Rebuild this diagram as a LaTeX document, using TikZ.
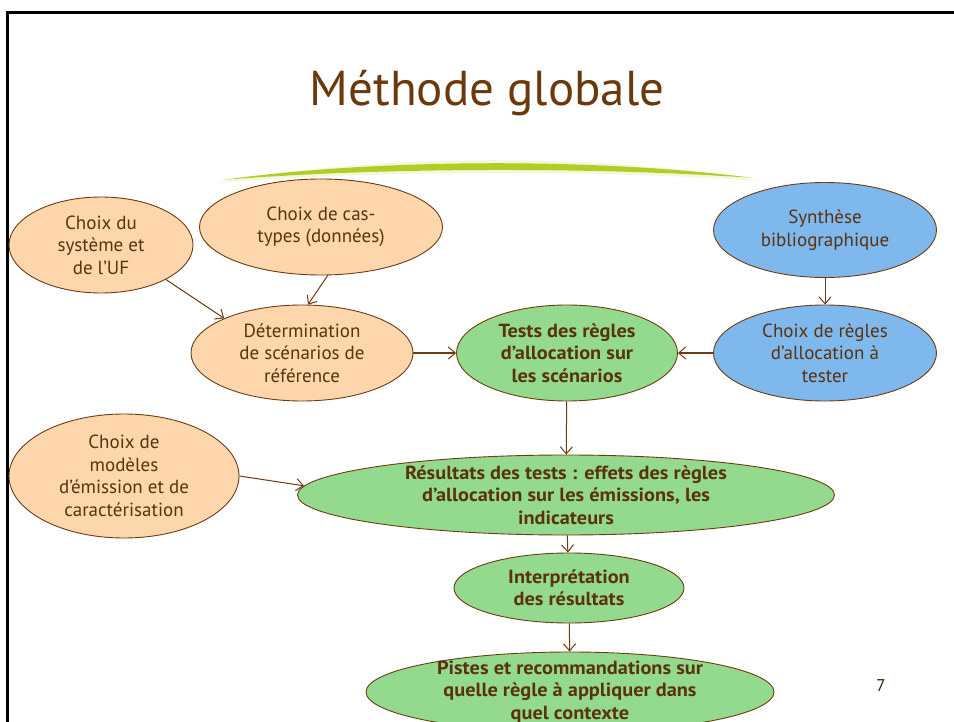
\documentclass[tikz,border=0pt]{standalone}
\usepackage{fontspec}
\setmainfont{PT Sans}
\newfontfamily\widefam[FakeStretch=1.07]{PT Sans}
\usetikzlibrary{shapes.geometric,arrows.meta}
\definecolor{peach}{RGB}{253,214,171}
\definecolor{leaf}{RGB}{147,218,143}
\definecolor{sky}{RGB}{126,184,236}
\definecolor{edge}{RGB}{110,60,20}
\definecolor{ink}{RGB}{90,50,16}
\definecolor{titlec}{RGB}{106,58,12}
\definecolor{swoosh}{RGB}{176,206,36}
\tikzset{
  ell/.style={ellipse, draw=edge, line width=0.9pt, inner sep=0pt},
  txt/.style={align=center, text=ink, font=\fontsize{19}{22.5}\selectfont, inner sep=0pt},
  btxt/.style={txt, font=\fontsize{19}{22.5}\selectfont\widefam\bfseries},
  arr/.style={draw=edge, line width=1pt, -{Straight Barb[length=7pt,width=12pt]}}
}
\begin{document}
\begin{tikzpicture}[x=1pt,y=-1pt]
\useasboundingbox (0,0) rectangle (954,722);
\fill[white] (0,0) rectangle (954,722);
% frame
\draw[black, line width=2.6pt] (7.5,730) -- (7.5,12.5) -- (960,12.5);
% title
\node[text=titlec, font=\fontsize{49}{55}\selectfont, inner sep=0pt] (title) at (487,93) {Méthode globale};
% swoosh
\fill[swoosh, opacity=0.15] (214,183) .. controls (380,153) and (600,153) .. (762,181) .. controls (600,170) and (380,170) .. (214,183) -- cycle;
\fill[swoosh] (222,180) .. controls (380,158) and (600,158) .. (754,178) .. controls (600,167) and (380,167) .. (222,180) -- cycle;
% ellipses
\node[ell, fill=peach, minimum width=184pt, minimum height=96pt] (sys) at (101,245) {};
\node[txt] at (sys) {Choix du\\système et\\de l’UF};
\node[ell, fill=peach, minimum width=243pt, minimum height=96pt] (cas) at (321,227) {};
\node[txt] at (cas) {Choix de cas-\\types (données)};
\node[ell, fill=peach, minimum width=222pt, minimum height=96pt] (det) at (302,353) {};
\node[txt] at (det) {Détermination\\de scénarios de\\référence};
\node[ell, fill=leaf, minimum width=221pt, minimum height=96pt] (tests) at (567,353) {};
\node[btxt] at (tests) {Tests des règles\\d’allocation sur\\les scénarios};
\node[ell, fill=sky, minimum width=223pt, minimum height=95pt] (synth) at (825,230) {};
\node[txt] at (synth) {Synthèse\\bibliographique};
\node[ell, fill=sky, minimum width=223pt, minimum height=96pt] (regles) at (825,353) {};
\node[txt] at (regles) {Choix de règles\\d’allocation à\\tester};
\node[ell, fill=peach, minimum width=230pt, minimum height=124pt] (mod) at (124,476) {};
\node[txt] at (mod) {Choix de\\modèles\\d’émission et de\\caractérisation};
\node[ell, fill=leaf, minimum width=537pt, minimum height=80pt] (res) at (566,495) {};
\node[btxt] at (res) {Résultats des tests : effets des règles\\d’allocation sur les émissions, les\\indicateurs};
\node[ell, fill=leaf, minimum width=230pt, minimum height=70pt] (interp) at (569,588) {};
\node[btxt] at (interp) {Interprétation\\des résultats};
\node[ell, fill=leaf, minimum width=408pt, minimum height=80pt] (pistes) at (570,692) {};
\node[btxt] at (pistes) {Pistes et recommandations sur\\quelle règle à appliquer dans\\quel contexte};
% page number
\node[text=ink!60!black, font=\fontsize{17}{19}\selectfont, inner sep=0pt] (page) at (881,686) {7};
% connectors
\draw[arr] (sys.-28) -- (det.156);
\draw[arr] (cas.-82) -- (det.83);
\draw[arr] (det) -- (tests);
\draw[arr] (regles) -- (tests);
\draw[arr] (synth) -- (regles);
\draw[arr] (tests) -- (res);
\draw[arr] (mod.0) -- (res.178);
\draw[arr] (res) -- (interp);
\draw[arr] (interp) -- (pistes);
\end{tikzpicture}
\end{document}
